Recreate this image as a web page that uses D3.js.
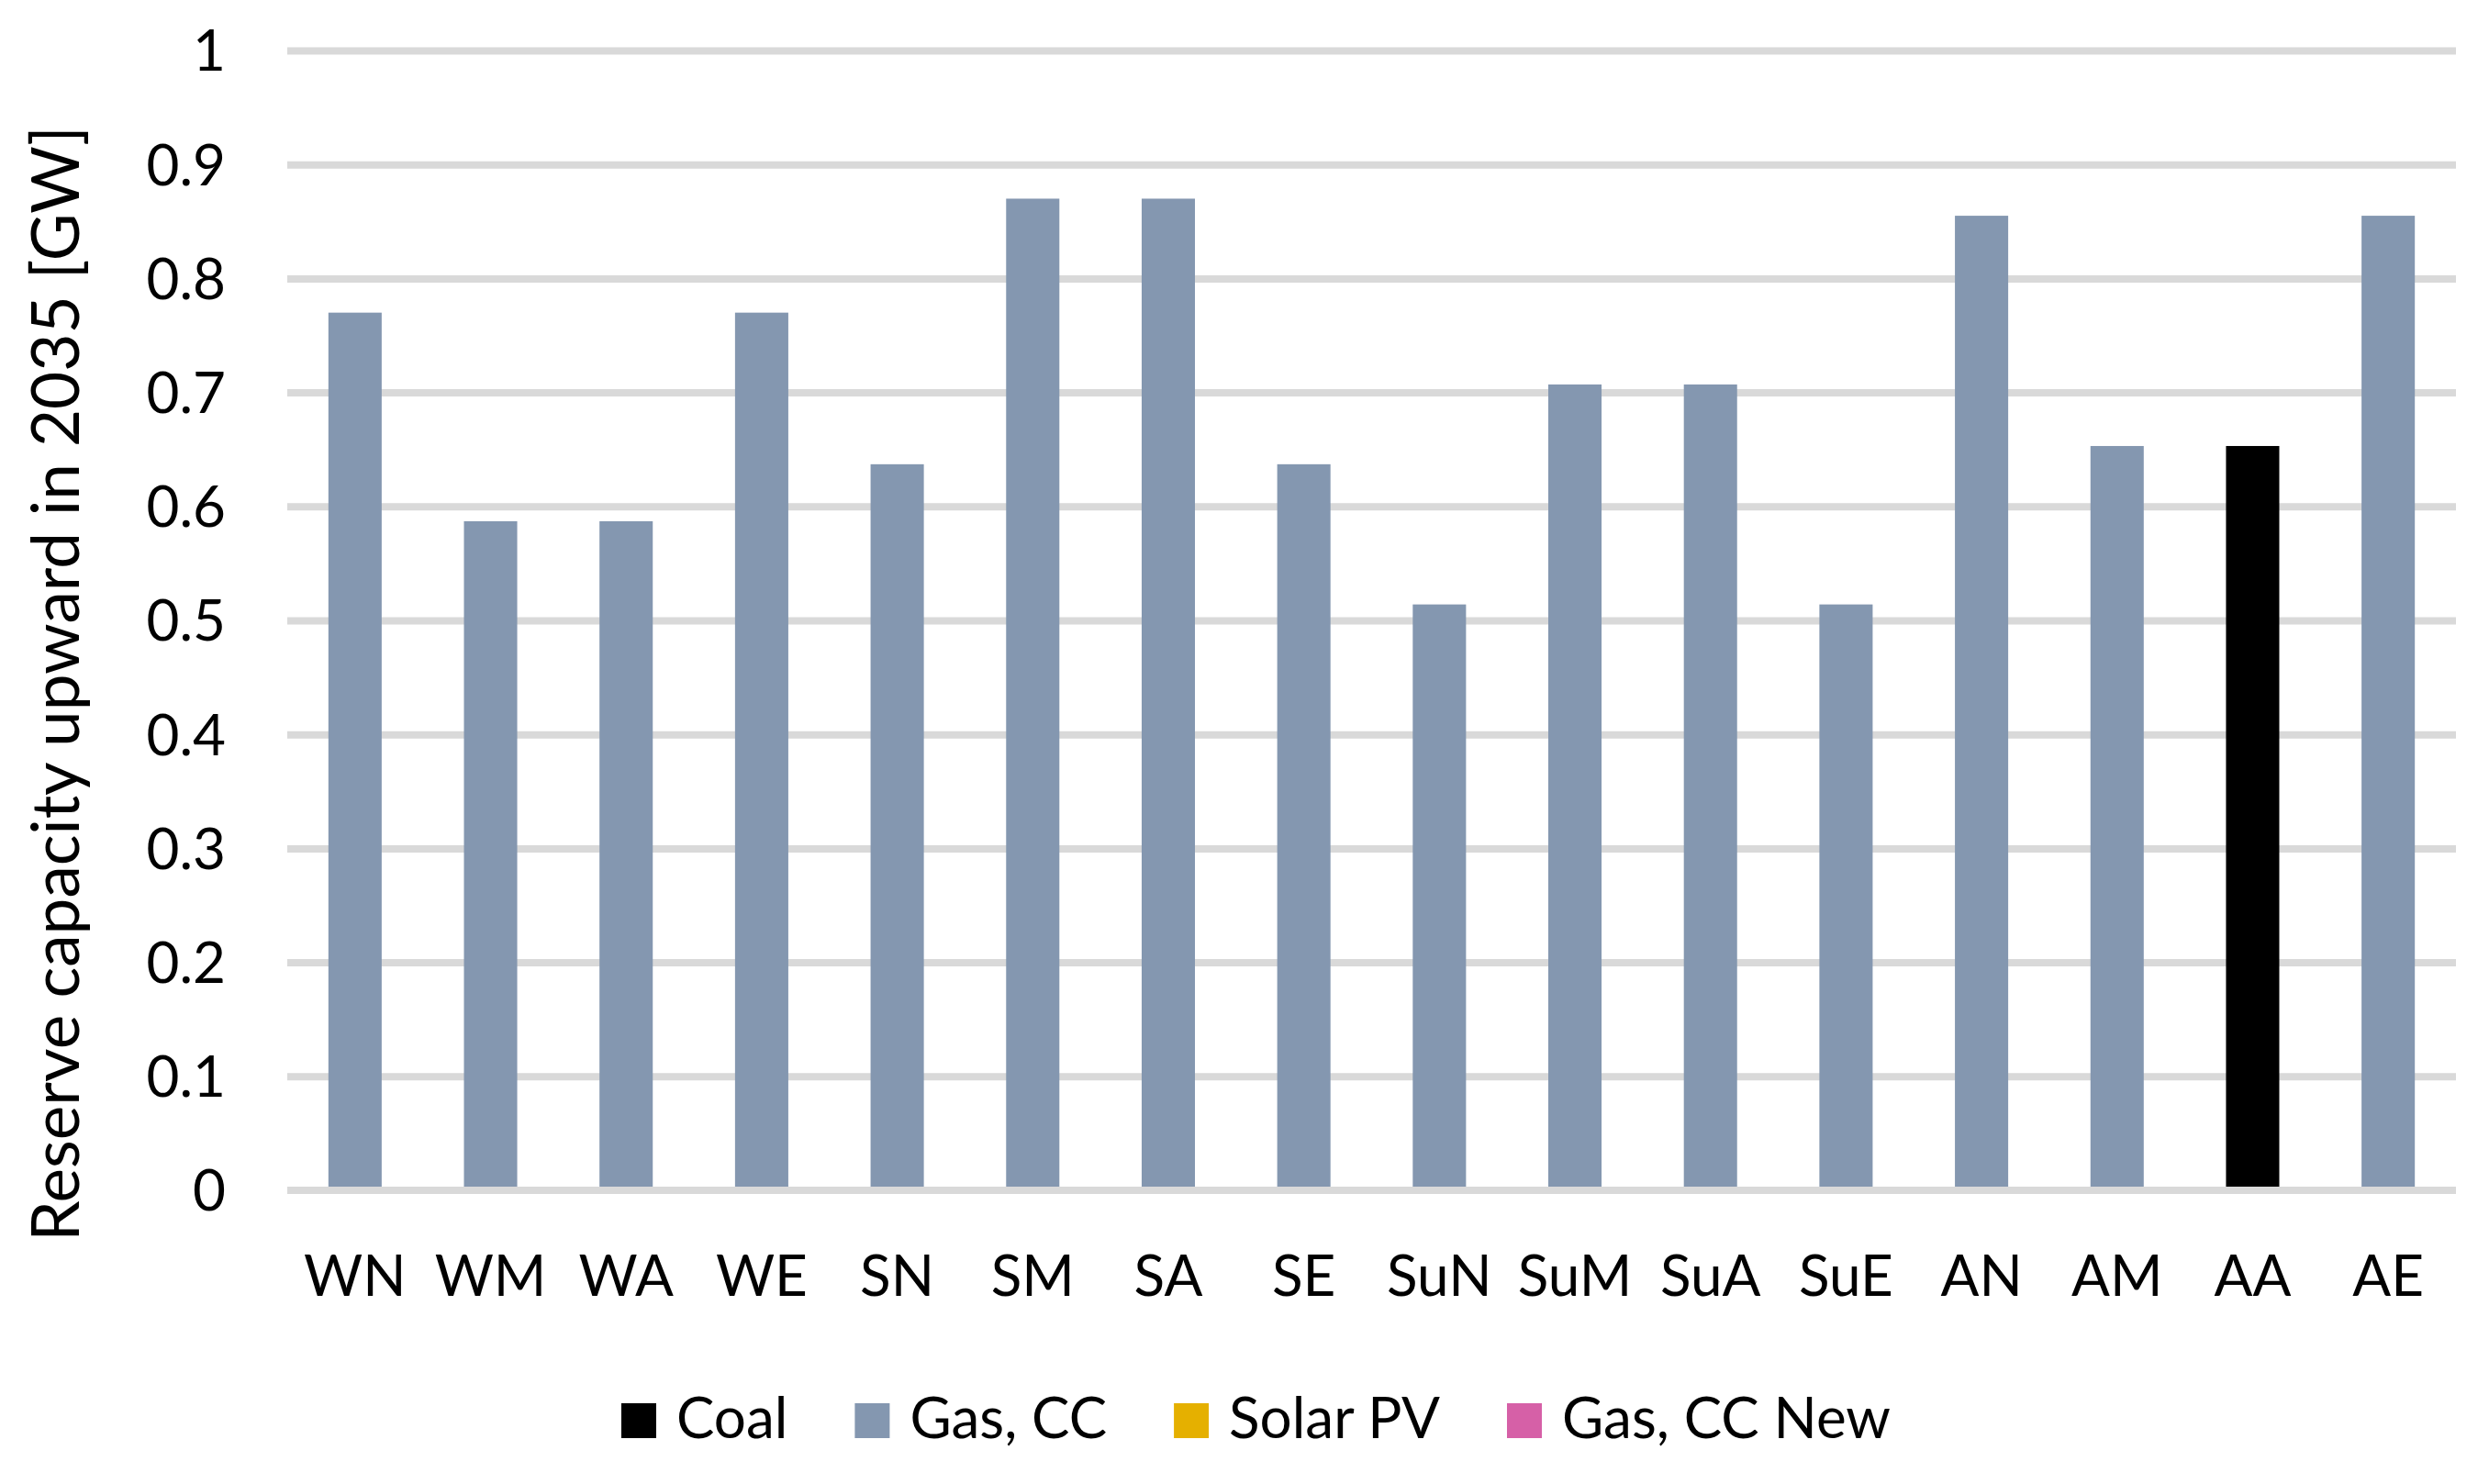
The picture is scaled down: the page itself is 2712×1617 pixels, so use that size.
<!DOCTYPE html>
<html>
<head>
<meta charset="utf-8">
<title>Reserve capacity upward in 2035</title>
<style type="text/css">
body {
	margin: 0;
	background: #ffffff;
}

text {
	font-family: Lato, "Open Sans", sans-serif;
	fill: #000000;
}
</style>
</head>
<body>

<div id="chart"></div>

<script src="https://cdn.jsdelivr.net/npm/d3@7"></script>

<script type="text/javascript">
	// data
	var categories = [ 'WN', 'WM', 'WA', 'WE', 'SN', 'SM', 'SA', 'SE',
			'SuN', 'SuM', 'SuA', 'SuE', 'AN', 'AM', 'AA', 'AE' ];
	var coal = [ 0, 0, 0, 0, 0, 0, 0, 0, 0, 0, 0, 0, 0, 0, 0.653, 0 ];
	var gasCC = [ 0.77, 0.587, 0.587, 0.77, 0.637, 0.87, 0.87, 0.637,
			0.514, 0.707, 0.707, 0.514, 0.855, 0.653, 0, 0.855 ];
	var solarPV = [ 0, 0, 0, 0, 0, 0, 0, 0, 0, 0, 0, 0, 0, 0, 0, 0 ];
	var gasCCNew = [ 0, 0, 0, 0, 0, 0, 0, 0, 0, 0, 0, 0, 0, 0, 0, 0 ];

	var seriesNames = [ 'Coal', 'Gas, CC', 'Solar PV', 'Gas, CC New' ];
	var seriesColors = [ '#000000', '#8497B0', '#E5B000', '#D660A7' ];
	var yTicks = [ 0, 0.1, 0.2, 0.3, 0.4, 0.5, 0.6, 0.7, 0.8, 0.9, 1 ];
	var yTitle = 'Reserve capacity upward in 2035 [GW]';

	var width = 2712, height = 1617;
	var plotLeft = 313, plotRight = 2676, plotTop = 55, plotBottom = 1297;

	// table for d3.stack
	var seriesValues = [ coal, gasCC, solarPV, gasCCNew ];
	var rows = categories.map(function(c, i) {
		var row = { category: c };
		seriesNames.forEach(function(s, j) {
			row[s] = seriesValues[j][i];
		});
		return row;
	});
	var stacked = d3.stack().keys(seriesNames)(rows);

	var x = d3.scaleBand().domain(categories).range([ plotLeft, plotRight ])
			.paddingInner(0.607).paddingOuter(0.3035);
	var y = d3.scaleLinear().domain([ 0, 1 ]).range([ plotBottom, plotTop ]);
	var color = d3.scaleOrdinal().domain(seriesNames).range(seriesColors);

	var svg = d3.select('#chart').append('svg')
			.attr('width', width).attr('height', height);

	svg.append('rect').attr('width', width).attr('height', height)
			.attr('fill', 'white');

	// gridlines
	var grid = d3.axisLeft(y).tickValues(yTicks.filter(function(d) {
		return d > 0;
	})).tickSize(-(plotRight - plotLeft)).tickFormat('');
	svg.append('g').attr('transform', 'translate(' + plotLeft + ',0)')
			.call(grid)
			.call(function(g) {
				g.select('.domain').remove();
				g.selectAll('line').attr('stroke', '#D9D9D9')
						.attr('stroke-width', 8);
			});

	// bars
	svg.append('g').selectAll('g').data(stacked).enter().append('g')
			.attr('fill', function(d) {
				return color(d.key);
			})
			.selectAll('rect').data(function(d) {
				return d;
			}).enter().append('rect')
			.attr('x', function(d) {
				return x(d.data.category);
			})
			.attr('width', x.bandwidth())
			.attr('y', function(d) {
				return y(d[1]);
			})
			.attr('height', function(d) {
				return y(d[0]) - y(d[1]);
			});

	// zero line on top of the bars
	svg.append('line').attr('x1', plotLeft).attr('x2', plotRight)
			.attr('y1', y(0)).attr('y2', y(0))
			.attr('stroke', '#D9D9D9').attr('stroke-width', 8);

	// y tick labels
	svg.append('g').selectAll('text').data(yTicks).enter().append('text')
			.attr('x', 246)
			.attr('y', function(d) {
				return y(d);
			})
			.attr('dy', '0.36em')
			.attr('text-anchor', 'end')
			.style('font-size', '62px')
			.text(function(d) {
				return d3.format('~g')(d);
			});

	// x labels
	svg.append('g').selectAll('text').data(categories).enter().append('text')
			.attr('x', function(d) {
				return x(d) + x.bandwidth() / 2;
			})
			.attr('y', 1412)
			.attr('text-anchor', 'middle')
			.style('font-size', '62px')
			.text(function(d) {
				return d;
			});

	// y title
	svg.append('text')
			.attr('transform', 'translate(86,745) rotate(-90)')
			.attr('text-anchor', 'middle')
			.style('font-size', '71px')
			.text(yTitle);

	// legend
	var legend = svg.append('g');
	var lx = 677;
	seriesNames.forEach(function(s) {
		legend.append('rect').attr('x', lx).attr('y', 1529)
				.attr('width', 38).attr('height', 38)
				.attr('fill', color(s));
		var t = legend.append('text').attr('x', lx + 60).attr('y', 1567)
				.style('font-size', '62px').text(s);
		lx += 60 + t.node().getComputedTextLength() + 73;
	});
</script>

</body>
</html>
